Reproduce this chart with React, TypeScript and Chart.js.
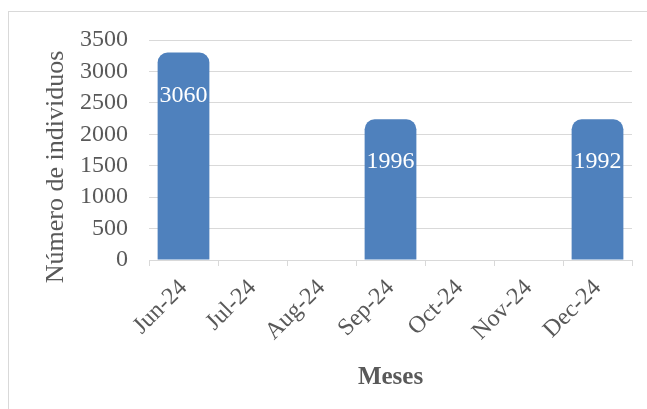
import { useEffect, useRef } from "react";
import { Chart, registerables } from "chart.js";

Chart.register(...registerables);

const months = ["Jun-24", "Jul-24", "Aug-24", "Sep-24", "Oct-24", "Nov-24", "Dec-24"];
// bar heights as drawn in the picture
const barHeights: (number | null)[] = [3300, null, null, 2240, null, null, 2240];
// printed values inside the bars
const valueLabels = ["3060", "", "", "1996", "", "", "1992"];
const yMin = 0;
const yMax = 3500;
const yStep = 500;
const yTitle = "Número de individuos";
const xTitle = "Meses";

const FONT = "'Liberation Serif', 'Times New Roman', serif";
const GRAY = "#595959";
const GRID = "#d9d9d9";

const insideLabels = {
  id: "insideLabels",
  afterDatasetsDraw(chart: any) {
    const ctx = chart.ctx;
    const meta = chart.getDatasetMeta(0);
    ctx.save();
    ctx.font = `24px ${FONT}`;
    ctx.fillStyle = "#ffffff";
    ctx.textAlign = "center";
    ctx.textBaseline = "middle";
    meta.data.forEach((el: any, i: number) => {
      const t = valueLabels[i];
      if (!t || barHeights[i] == null) return;
      ctx.fillText(t, el.x, el.y + 43);
    });
    ctx.restore();
  },
};

const yAxisTitle = {
  id: "yAxisTitle",
  afterDraw(chart: any) {
    const ctx = chart.ctx;
    const area = chart.chartArea;
    ctx.save();
    ctx.font = `26px ${FONT}`;
    ctx.fillStyle = GRAY;
    ctx.textAlign = "center";
    ctx.textBaseline = "middle";
    ctx.translate(47, (area.top + area.bottom) / 2 + 17);
    ctx.rotate(-Math.PI / 2);
    ctx.fillText(yTitle, 0, 0);
    ctx.restore();
  },
};

export default function App() {
  const ref = useRef<HTMLCanvasElement | null>(null);

  useEffect(() => {
    if (!ref.current) return;
    const chart = new Chart(ref.current, {
      type: "bar",
      data: {
        labels: months,
        datasets: [
          {
            data: barHeights,
            backgroundColor: "#4f81bd",
            borderRadius: { topLeft: 10, topRight: 10, bottomLeft: 0, bottomRight: 0 },
            borderSkipped: false,
            categoryPercentage: 1,
            barPercentage: 0.75,
          },
        ],
      },
      options: {
        animation: false,
        responsive: false,
        devicePixelRatio: 1,
        layout: { padding: { top: 28, right: 15, left: 0, bottom: 0 } },
        plugins: {
          legend: { display: false },
          tooltip: { enabled: false },
        },
        scales: {
          x: {
            type: "category",
            offset: true,
            grid: {
              offset: true,
              drawOnChartArea: false,
              color: GRID,
              tickLength: 6,
            },
            border: { color: GRID, z: 1 },
            ticks: {
              autoSkip: false,
              minRotation: 45,
              maxRotation: 45,
              padding: 8,
              color: GRAY,
              font: { family: FONT, size: 24 },
            },
            title: {
              display: true,
              text: xTitle,
              color: GRAY,
              font: { family: FONT, size: 25, weight: "bold" },
              padding: { top: 16, bottom: 16 },
            },
            afterFit: (s: any) => {
              s.height = 149;
            },
          },
          y: {
            min: yMin,
            max: yMax,
            grid: { color: GRID, drawTicks: false },
            border: { display: false },
            ticks: {
              stepSize: yStep,
              autoSkip: false,
              padding: 21,
              color: GRAY,
              font: { family: FONT, size: 24 },
              callback: (v: any) => String(v),
            },
            afterFit: (s: any) => {
              s.width = 140;
              s.paddingTop = 0;
              s.paddingBottom = 0;
            },
          },
        },
      },
      plugins: [insideLabels, yAxisTitle],
    });
    return () => chart.destroy();
  }, []);

  return (
    <div
      style={{
        position: "fixed",
        left: 8,
        top: 11,
        right: 0,
        bottom: 0,
        borderLeft: `1px solid ${GRID}`,
        borderTop: `1px solid ${GRID}`,
        background: "#fff",
      }}
    >
      <canvas ref={ref} width={638} height={397} style={{ display: "block", width: 638, height: 397 }} />
    </div>
  );
}
